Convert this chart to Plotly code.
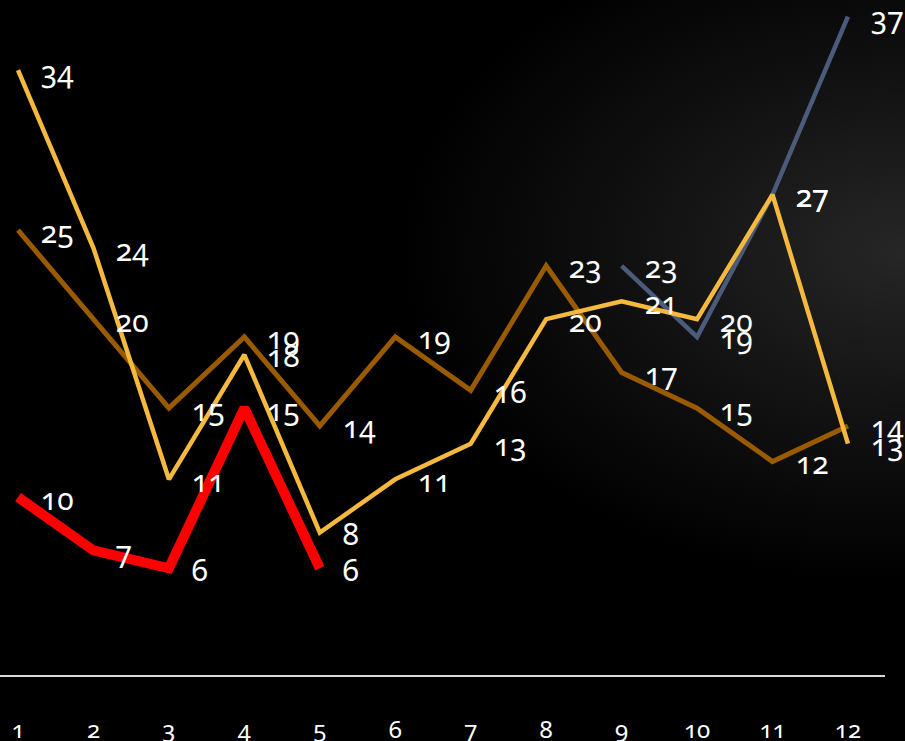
import plotly.graph_objects as go

months = [1, 2, 3, 4, 5, 6, 7, 8, 9, 10, 11, 12]
tick_labels = [str(m) for m in months]

red_x = [1, 2, 3, 4, 5]
red_vals = [10, 7, 6, 15, 6]

yellow_vals = [34, 24, 11, 18, 8, 11, 13, 20, 21, 20, 27, 13]
brown_vals = [25, 20, 15, 19, 14, 19, 16, 23, 17, 15, 12, 14]

blue_x = [9, 10, 11, 12]
blue_vals = [23, 19, 27, 37]

FONT = "Noto Sans"
series = [
    (blue_x, blue_vals, "#4B5B7C", 4.5),
    (months, brown_vals, "#9A5B00", 5),
    (months, yellow_vals, "#F5B93D", 4.5),
    (red_x, red_vals, "#FF0000", 10),
]

fig = go.Figure()
annotations = []
for xs, ys, color, w in series:
    fig.add_trace(go.Scatter(x=xs, y=ys, mode="lines",
                             line=dict(color=color, width=w),
                             hoverinfo="skip", showlegend=False))
    for x, y in zip(xs, ys):
        annotations.append(dict(x=x, y=y, xref="x", yref="y", text=str(y),
                                showarrow=False, xanchor="left", yanchor="middle",
                                xshift=20, yshift=-1,
                                font=dict(family=FONT, size=30, color="white")))

bg_svg = (
    "data:image/svg+xml;utf8,"
    "<svg xmlns='http://www.w3.org/2000/svg' width='905' height='741'>"
    "<defs><radialGradient id='g' cx='900' cy='250' r='420' gradientUnits='userSpaceOnUse' "
    "gradientTransform='translate(900 250) scale(1.2 0.8) translate(-900 -250)'>"
    "<stop offset='0' stop-color='%23262626'/><stop offset='0.5' stop-color='%23121212'/>"
    "<stop offset='1' stop-color='%23000000'/></radialGradient></defs>"
    "<rect width='905' height='741' fill='black'/>"
    "<rect width='905' height='741' fill='url(%23g)'/></svg>"
)

fig.update_layout(
    width=905, height=741,
    margin=dict(l=0, r=20, t=0, b=66),
    paper_bgcolor="black", plot_bgcolor="rgba(0,0,0,0)",
    annotations=annotations,
    images=[dict(source=bg_svg, xref="paper", yref="paper", x=0.0, y=1.0,
                 sizex=905/885, sizey=741/675, sizing="stretch",
                 xanchor="left", yanchor="top", layer="below")],
    xaxis=dict(range=[0.7614, 12.491], tickvals=months, ticktext=tick_labels,
               showgrid=False, zeroline=False, showline=True,
               linecolor="#d9d9d9", linewidth=2, ticks="",
               ticklabelstandoff=32, automargin=False,
               tickfont=dict(family=FONT, size=24, color="white")),
    yaxis=dict(range=[0, 37.94], visible=False, showgrid=False, zeroline=False,
               automargin=False),
)

post = """
document.body.style.margin='0';
document.body.style.background='black';
var s=document.createElement('style');
s.textContent='.js-plotly-plot text{font-feature-settings:"onum" 1 !important;}';
document.head.appendChild(s);
"""
fig.write_html("out.html", post_script=post, config={"displayModeBar": False})
